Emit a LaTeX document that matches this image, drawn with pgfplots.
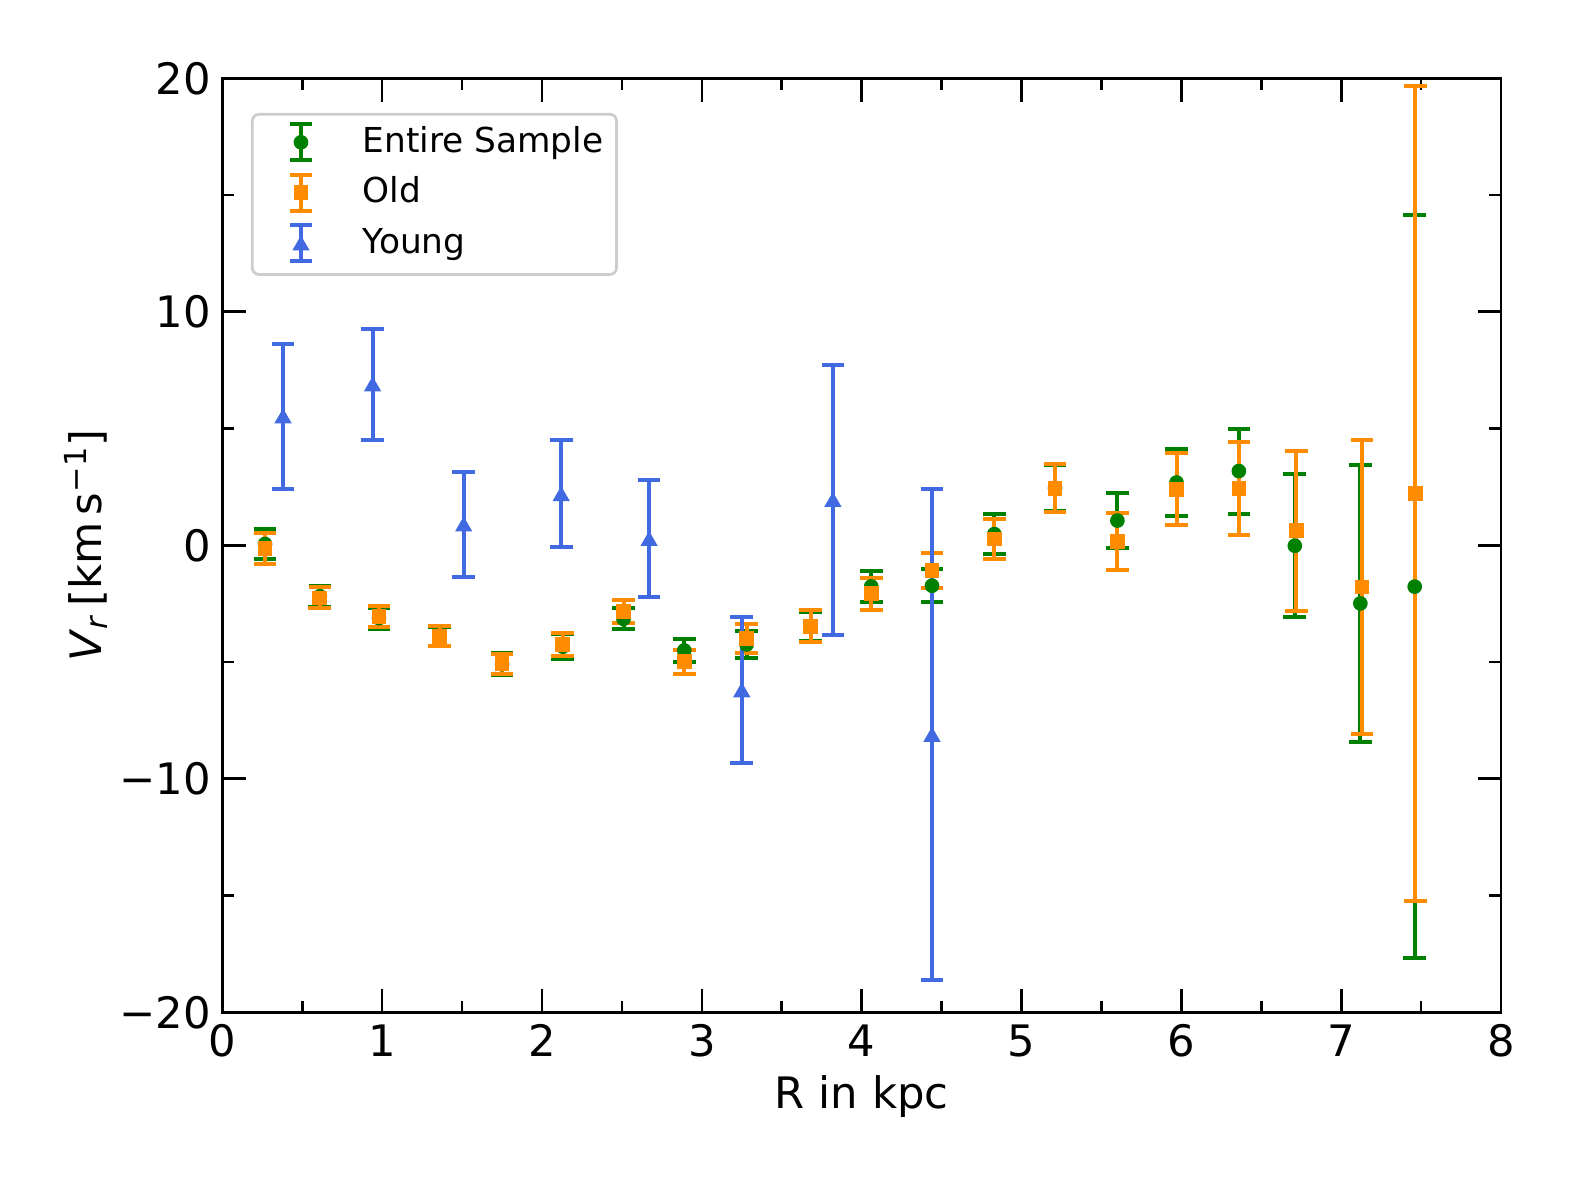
\documentclass[border=0pt]{standalone}
\usepackage{fontspec}
\setmainfont{DejaVu Sans}
\usepackage{pgfplots}
\usepackage{pgfplotstable}
\pgfplotsset{compat=1.18}
\definecolor{mplgreen}{RGB}{0,128,0}
\definecolor{mplorange}{RGB}{255,140,0}
\definecolor{mplblue}{RGB}{65,105,225}
\definecolor{leggray}{RGB}{204,204,204}

\pgfplotstableread{
x y e
0.267 0.055 0.66
0.61 -2.18 0.45
0.98 -3.12 0.45
1.36 -3.90 0.40
1.75 -5.09 0.47
2.13 -4.34 0.55
2.51 -3.15 0.45
2.89 -4.50 0.50
3.28 -4.25 0.58
3.68 -3.47 0.61
4.06 -1.76 0.66
4.44 -1.73 0.70
4.83 0.48 0.84
5.21 2.45 1.00
5.60 1.06 1.16
5.97 2.69 1.42
6.36 3.18 1.82
6.71 -0.02 3.06
7.12 -2.49 5.94
7.46 -1.77 15.90
}\entire

\pgfplotstableread{
x y e
0.267 -0.13 0.67
0.61 -2.25 0.45
0.98 -3.06 0.45
1.36 -3.90 0.43
1.75 -5.07 0.43
2.13 -4.25 0.48
2.51 -2.84 0.48
2.89 -4.98 0.51
3.28 -3.98 0.62
3.68 -3.47 0.68
4.06 -2.07 0.68
4.44 -1.08 0.73
4.83 0.27 0.87
5.21 2.44 1.03
5.60 0.17 1.21
5.97 2.40 1.54
6.36 2.43 2.00
6.72 0.63 3.43
7.13 -1.79 6.28
7.465 2.22 17.47
}\old

\pgfplotstableread{
x y e
0.38 5.53 3.10
0.94 6.90 2.37
1.51 0.90 2.24
2.12 2.20 2.29
2.67 0.28 2.51
3.25 -6.20 3.13
3.82 1.95 5.78
4.44 -8.11 10.52
}\young

\pgfplotsset{
  ebleg/.style={legend image code/.code={
    \path[draw=none, fill=none] (-12.6pt,-8.05pt) rectangle (16.5pt,7.1pt);
    \draw[#1, line width=1.2pt] (0pt,-5.4pt) -- (0pt,5.4pt)
      (-3.3pt,-5.4pt) -- (3.3pt,-5.4pt) (-3.3pt,5.4pt) -- (3.3pt,5.4pt);
    \draw[##1, line width=0.4pt] plot coordinates {(0pt,0pt)};
  }},
}
\newcommand{\lt}[1]{\raisebox{0pt}[7.5pt][0pt]{#1}}

\begin{document}
\begin{tikzpicture}
\begin{axis}[
  scale only axis, width=383.6pt, height=280.2pt,
  xmin=0, xmax=8, ymin=-20, ymax=20,
  xtick={0,1,2,3,4,5,6,7,8}, xticklabels={0,1,2,3,4,5,6,7,8},
  ytick={-20,-10,0,10,20}, yticklabels={−20,−10,0,10,20},
  minor x tick num=1, minor y tick num=1,
  tick align=inside, major tick length=7pt, minor tick length=3.5pt,
  every tick/.style={black, line width=0.8pt},
  axis line style={line width=0.8pt},
  ticklabel style={font=\fontsize{13}{15.6}\selectfont},
  xticklabel style={inner sep=0pt, anchor=north, yshift=-3.5pt},
  yticklabel style={inner sep=0pt, anchor=east, xshift=-3.2pt},
  xlabel={R in kpc},
  ylabel={\textit{V}\textsubscript{\textit{r}}\,[km\,s\textsuperscript{−1}]},
  label style={font=\fontsize{13}{15.6}\selectfont},
  xlabel style={at={(axis description cs:0.5,-0.1028)}, anchor=base},
  ylabel style={at={(axis description cs:-0.0945,0.5)}, anchor=base},
  legend style={at={(0.0224,0.9629)}, anchor=north west, draw=leggray,
    line width=0.8pt, rounded corners=2pt, fill=white,
    inner xsep=2pt, inner ysep=1.3pt, font=\fontsize{10.3}{12.4}\selectfont,
    column sep=0pt, row sep=0pt},
  legend cell align=left,
]
\addplot[only marks, mark=*, mark size=2pt, color=mplgreen, ebleg=mplgreen,
  error bars/.cd, y dir=both, y explicit,
  error bar style={line width=1.2pt, mplgreen},
  error mark options={rotate=90, line width=1.2pt, mark size=3.4pt, mplgreen}]
  table[x=x, y=y, y error=e] {\entire};
\addlegendentry{\lt{Entire Sample}}
\addplot[only marks, mark=square*, mark size=2pt, color=mplorange, ebleg=mplorange,
  error bars/.cd, y dir=both, y explicit,
  error bar style={line width=1.2pt, mplorange},
  error mark options={rotate=90, line width=1.2pt, mark size=3.4pt, mplorange}]
  table[x=x, y=y, y error=e] {\old};
\addlegendentry{\lt{Old}}
\addplot[only marks, mark=triangle*, mark size=2.6pt, color=mplblue, ebleg=mplblue,
  mark options={yshift=-0.65pt},
  error bars/.cd, y dir=both, y explicit,
  error bar style={line width=1.2pt, mplblue},
  error mark options={rotate=90, line width=1.2pt, mark size=3.4pt, mplblue}]
  table[x=x, y=y, y error=e] {\young};
\addlegendentry{\lt{Young}}
\coordinate (bl) at (rel axis cs:0,0);
\coordinate (tr) at (rel axis cs:1,1);
\end{axis}
\path ([shift={(-66.7pt,-50.0pt)}]bl) rectangle ([shift={(22.5pt,23.5pt)}]tr);
\end{tikzpicture}
\end{document}
